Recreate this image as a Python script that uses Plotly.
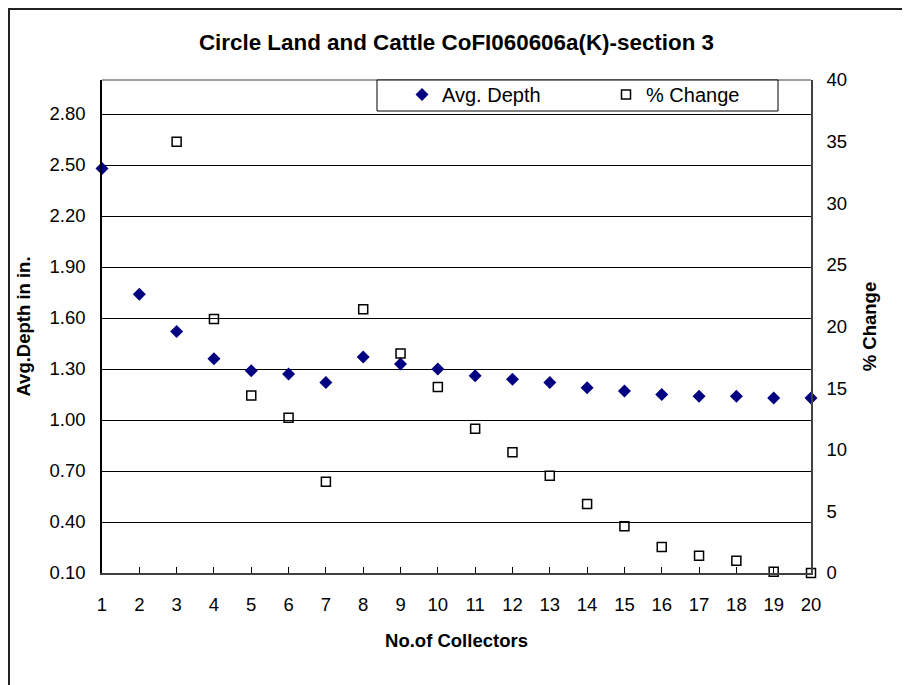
import plotly.graph_objects as go

# ---- data ----
collectors = list(range(1, 21))
avg_depth = [2.48, 1.74, 1.52, 1.36, 1.29, 1.27, 1.22, 1.37, 1.33, 1.30,
             1.26, 1.24, 1.22, 1.19, 1.17, 1.15, 1.14, 1.14, 1.13, 1.13]
pct_x = list(range(3, 21))
pct_change = [35.0, 20.6, 14.4, 12.6, 7.4, 21.4, 17.8, 15.1, 11.7, 9.8,
              7.9, 5.6, 3.8, 2.1, 1.4, 1.0, 0.1, 0.0]
left_ticks = [0.10, 0.40, 0.70, 1.00, 1.30, 1.60, 1.90, 2.20, 2.50, 2.80]
right_ticks = [0, 5, 10, 15, 20, 25, 30, 35, 40]

FONT = "Liberation Sans, Arial, sans-serif"
OFF = 8  # page body margin
W, H = 910 - OFF, 685 - OFF
ML, MT = 102 - OFF, 80 - OFF
PW, PH = 709, 493
MR, MB = W - ML - PW, H - MT - PH


def px_x(x):
    return (x - OFF - ML) / PW


def px_y(y):
    return (MT + PH - (y - OFF)) / PH


fig = go.Figure()
fig.add_trace(go.Scatter(
    x=collectors, y=avg_depth, mode="markers", name="Avg. Depth",
    marker=dict(symbol="diamond", size=10, color="#000080"),
    cliponaxis=False, yaxis="y"))
fig.add_trace(go.Scatter(
    x=pct_x, y=pct_change, mode="markers", name="% Change",
    marker=dict(symbol="square-open", size=9, color="black",
                line=dict(width=1.5, color="black")),
    cliponaxis=False, yaxis="y2"))

fig.update_layout(
    template="none",
    width=W, height=H, autosize=False,
    margin=dict(l=ML, r=MR, t=MT, b=MB, pad=0),
    paper_bgcolor="white", plot_bgcolor="white",
    font=dict(family=FONT, size=18, color="black"),
    title=dict(text="<b>Circle Land and Cattle CoFI060606a(K)-section 3</b>",
               font=dict(family=FONT, size=22.4, color="black"),
               x=0.5, xref="paper", xanchor="center",
               y=1 - (42 - OFF) / H, yref="container", yanchor="middle"),
    xaxis=dict(range=[1, 20], tickvals=collectors, ticks="inside", ticklen=6,
               tickcolor="black", tickwidth=1, showline=True, linecolor="#404040",
               linewidth=1.5, showgrid=False, zeroline=False,
               tickfont=dict(family=FONT, size=18.5), ticklabelstandoff=14,
               automargin=False,
               title=dict(text="<b>No.of Collectors</b>",
                          font=dict(family=FONT, size=18.5), standoff=20)),
    yaxis=dict(range=[0.1, 3.0], tickvals=left_ticks,
               ticktext=[f"{v:.2f}" for v in left_ticks],
               ticks="", showline=True, linecolor="black", linewidth=1.5,
               showgrid=True, gridcolor="black", gridwidth=1, zeroline=False,
               tickfont=dict(family=FONT, size=18.5), ticklabelstandoff=11,
               automargin=False,
               title=dict(text="<b>Avg.Depth in in.</b>",
                          font=dict(family=FONT, size=18.5), standoff=14)),
    yaxis2=dict(range=[0, 40], tickvals=right_ticks, overlaying="y", side="right",
                ticks="", showline=True, linecolor="#404040", linewidth=1.5,
                showgrid=False, zeroline=False,
                tickfont=dict(family=FONT, size=18.5), ticklabelstandoff=10,
                automargin=False,
                title=dict(text="<b>% Change</b>",
                           font=dict(family=FONT, size=18.5), standoff=17)),
    showlegend=True,
    legend=dict(orientation="h", x=px_x(402), y=px_y(75), xanchor="left",
                yanchor="top", bgcolor="rgba(0,0,0,0)", borderwidth=0,
                font=dict(family=FONT, size=20), entrywidth=159,
                itemwidth=30, tracegroupgap=0),
    shapes=[
        # plot-area top border
        dict(type="line", xref="paper", yref="paper", x0=0, x1=1, y0=1, y1=1,
             line=dict(color="#808080", width=1.5), layer="below"),
        # legend frame
        dict(type="rect", xref="paper", yref="paper",
             x0=px_x(377), x1=px_x(778), y0=px_y(80), y1=px_y(111),
             line=dict(color="black", width=1), fillcolor="white", layer="above"),
        # chart outer border
        dict(type="rect", xref="paper", yref="paper",
             x0=px_x(9), x1=px_x(930), y0=px_y(9), y1=px_y(700),
             line=dict(color="#222222", width=2), fillcolor="rgba(0,0,0,0)",
             layer="above"),
    ],
)

fig.write_html("out.html")
